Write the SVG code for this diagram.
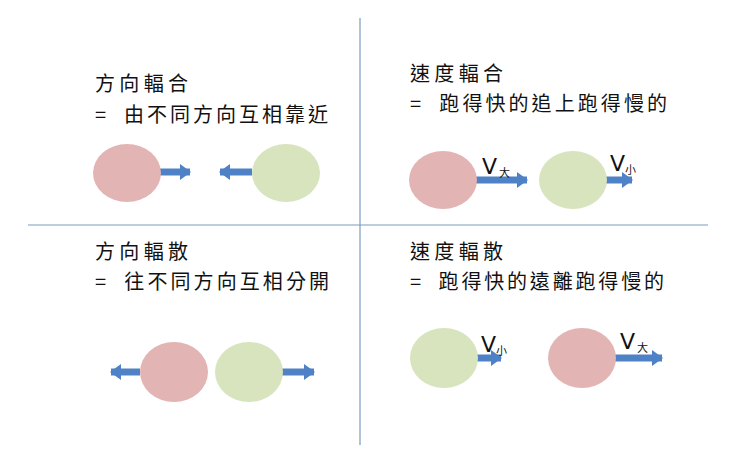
<svg xmlns="http://www.w3.org/2000/svg" width="740" height="460" viewBox="0 0 740 460">
<style>
.t{font-family:"Noto Sans CJK TC","Noto Sans CJK SC",sans-serif;font-size:20px;fill:#111}
.v{font-family:"DejaVu Sans",sans-serif;font-size:22px;fill:#111}
.s{font-family:"Noto Sans CJK TC",sans-serif;font-size:11px;fill:#111}
.p{fill:#e3b4b4}.g{fill:#d8e4bd}
.a{stroke:#4f81c6;stroke-width:7;fill:none;marker-end:url(#ah)}
.l{stroke:#7d9bc0;stroke-width:1.2}
</style>
<defs><marker id="ah" markerUnits="userSpaceOnUse" markerWidth="12" markerHeight="16" refX="10" refY="8" orient="auto"><path d="M0,0L11,8L0,16Z" fill="#4f81c6"/></marker></defs>
<rect width="740" height="460" fill="#fff"/>
<g id="connectors">
<line class="l" x1="360" y1="18" x2="360" y2="445"/>
<line class="l" x1="28" y1="225" x2="708" y2="225"/>
<line class="a" x1="160" y1="172" x2="190" y2="172"/>
<line class="a" x1="252" y1="172" x2="220" y2="172"/>
<line class="a" x1="476" y1="180" x2="527" y2="180"/>
<line class="a" x1="606" y1="180" x2="632" y2="180"/>
<line class="a" x1="140" y1="372" x2="111" y2="372"/>
<line class="a" x1="282" y1="372" x2="314" y2="372"/>
<line class="a" x1="477" y1="358" x2="501" y2="358"/>
<line class="a" x1="615" y1="358" x2="662" y2="358"/>
</g>
<g id="tl">
<text class="t" x="95" y="91" textLength="93">方向輻合</text>
<text class="t" x="95" y="122" textLength="233" xml:space="preserve">=  由不同方向互相靠近</text>
<ellipse class="p" cx="127" cy="173" rx="34" ry="29"/>
<ellipse class="g" cx="286" cy="173" rx="34" ry="29"/>
</g>
<g id="tr">
<text class="t" x="410" y="81" textLength="93">速度輻合</text>
<text class="t" x="410" y="111" textLength="257" xml:space="preserve">=  跑得快的追上跑得慢的</text>
<ellipse class="p" cx="443" cy="180" rx="34" ry="29"/>
<ellipse class="g" cx="573" cy="180" rx="34" ry="29"/>
<text class="v" x="482" y="174">V</text><text class="s" x="499" y="177">大</text>
<text class="v" x="610" y="171">V</text><text class="s" x="625" y="174">小</text>
</g>
<g id="bl">
<text class="t" x="95" y="259" textLength="93">方向輻散</text>
<text class="t" x="95" y="289" textLength="234" xml:space="preserve">=  往不同方向互相分開</text>
<ellipse class="p" cx="174" cy="372" rx="34" ry="30"/>
<ellipse class="g" cx="249" cy="372" rx="34" ry="30"/>
</g>
<g id="br">
<text class="t" x="410" y="259" textLength="93">速度輻散</text>
<text class="t" x="410" y="289" textLength="254" xml:space="preserve">=  跑得快的遠離跑得慢的</text>
<ellipse class="g" cx="444" cy="358" rx="34" ry="30"/>
<ellipse class="p" cx="582" cy="358" rx="34" ry="30"/>
<text class="v" x="481" y="352">V</text><text class="s" x="496" y="355">小</text>
<text class="v" x="620" y="349">V</text><text class="s" x="637" y="352">大</text>
</g>
</svg>
